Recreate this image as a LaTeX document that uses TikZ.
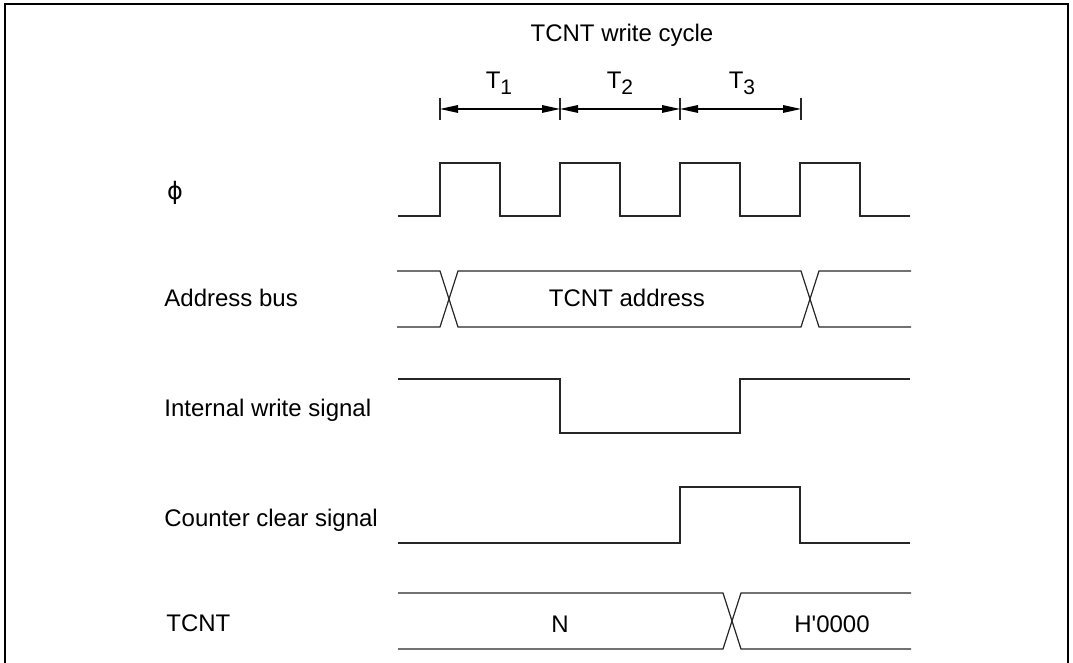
\documentclass[tikz,border=0pt]{standalone}
\usepackage{fontspec}
\setmainfont{Liberation Sans}
\newfontfamily\symfont{DejaVu Sans}
\usetikzlibrary{arrows.meta}

\newcommand{\tsub}[1]{T\raisebox{-3pt}{\fontsize{10.5}{12}\selectfont #1}}

\begin{document}
\begin{tikzpicture}[
        x=0.5pt, y=-0.5pt,
        >={Triangle[length=9pt, width=3.8pt]},
        frame/.style={line width=1.1pt},
        sig/.style={line width=0.6pt, draw=black!85},
        tick/.style={line width=0.6pt, draw=black!85},
        dim/.style={<->, line width=0.6pt},
        label/.style={anchor=base west, inner sep=0pt, font=\fontsize{12}{14}\selectfont},
        txt/.style={anchor=base, inner sep=0pt, font=\fontsize{12}{14}\selectfont},
    ]
    \useasboundingbox (0,0) rectangle (1073,663);

    % === FRAME ===
    \draw[frame] (5,663) -- (5,4) -- (1068,4) -- (1068,663);

    % === TITLE AND CYCLE MARKS ===
    \node[txt] (title) at (622,42) {TCNT write cycle};
    \foreach \i/\x in {0/440, 1/560, 2/680, 3/801} {
        \coordinate (m\i) at (\x,109);
        \draw[tick] (\x,98) -- (\x,120);
    }
    \draw[dim] (m0) -- (m1);
    \draw[dim] (m1) -- (m2);
    \draw[dim] (m2) -- (m3);
    \node[txt] (t1) at (499,89) {\tsub{1}};
    \node[txt] (t2) at (620,89) {\tsub{2}};
    \node[txt] (t3) at (742,89) {\tsub{3}};

    % === SIGNAL NAMES ===
    \node[inner sep=0pt, font=\symfont\fontsize{12}{14}\selectfont] (phi) at (175,193) {ϕ};
    \node[label] (abus) at (164,307) {Address bus};
    \node[label] (iwr) at (164,417) {Internal write signal};
    \node[label] (cclr) at (164,527) {Counter clear signal};
    \node[label] (tcnt) at (166,632) {TCNT};

    % === WAVEFORMS ===
    % clock
    \draw[sig] (398,216) \foreach \x in {440,560,680,800} {
        -- (\x,216) -- (\x,163) -- (\x+60,163) -- (\x+60,216)} -- (910,216);

    % address bus
    \draw[sig] (397,271) -- (440,271) -- (458,327) -- (801,327) -- (819,271) -- (911,271);
    \draw[sig] (397,327) -- (440,327) -- (458,271) -- (801,271) -- (819,327) -- (911,327);
    \node[txt] (addr) at (627,307) {TCNT address};

    % internal write
    \draw[sig] (398,379) -- (560,379) -- (560,433) -- (740,433) -- (740,379) -- (910,379);

    % counter clear
    \draw[sig] (398,543) -- (680,543) -- (680,487) -- (800,487) -- (800,543) -- (910,543);

    % TCNT value
    \draw[sig] (398,593) -- (723,593) -- (741,649) -- (911,649);
    \draw[sig] (398,649) -- (723,649) -- (741,593) -- (911,593);
    \node[txt] (valn) at (560,633) {N};
    \node[txt] (valz) at (832,633) {H\textquotesingle0000};

\end{tikzpicture}
\end{document}
